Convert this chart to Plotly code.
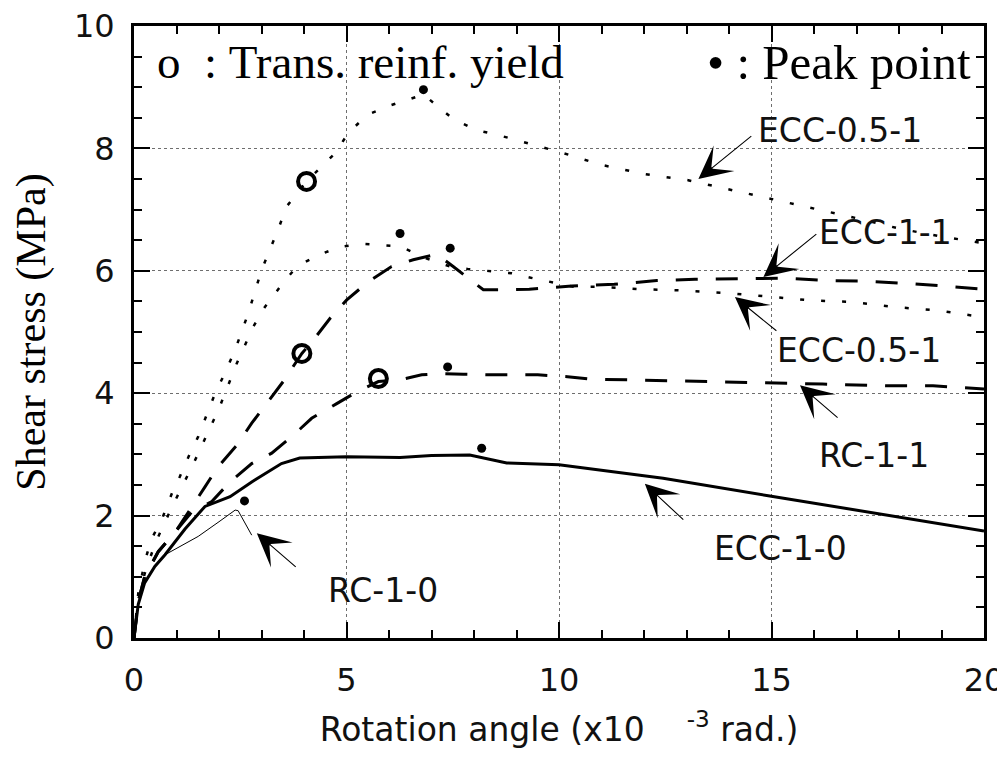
import plotly.graph_objects as go

# ---------------- data ----------------
ecc05a_x = [0, 0.1, 0.26, 0.42, 0.65, 0.89, 1.08, 1.32, 1.51, 1.91, 2.14, 2.38, 2.69, 3.0, 3.4, 3.59,
            4.06, 4.73, 5.04, 5.49, 5.98, 6.49, 6.81, 7.51, 8.05, 8.56, 9.5, 10.02, 11.0, 12.02, 13.04,
            14.0, 15.0, 16.0, 17.0, 18.0, 19.0, 20.0]
ecc05a_y = [0, 0.73, 1.27, 1.63, 1.93, 2.36, 2.64, 3.02, 3.29, 4.0, 4.33, 4.71, 5.31, 6.01, 6.69, 7.05,
            7.46, 7.92, 8.25, 8.55, 8.69, 8.80, 8.88, 8.48, 8.30, 8.22, 8.04, 7.94, 7.73, 7.58, 7.48,
            7.33, 7.17, 7.01, 6.86, 6.69, 6.56, 6.45]

ecc05b_x = [0, 0.1, 0.25, 0.5, 0.9, 1.4, 2.0, 2.42, 2.81, 3.08, 3.47, 3.83, 4.34, 4.85, 5.36, 5.87,
            6.26, 6.89, 7.44, 7.85, 8.36, 8.88, 9.38, 9.87, 10.34, 10.89, 11.87, 12.89, 13.87, 14.89,
            15.87, 16.89, 17.87, 18.93, 20.0]
ecc05b_y = [0, 0.6, 1.05, 1.55, 2.15, 2.85, 3.75, 4.49, 5.09, 5.41, 5.77, 6.07, 6.26, 6.39, 6.44, 6.42,
            6.40, 6.20, 6.07, 6.03, 6.00, 5.96, 5.88, 5.81, 5.74, 5.74, 5.70, 5.68, 5.64, 5.58,
            5.52, 5.49, 5.41, 5.35, 5.24]

ecc11_x = [0, 0.1, 0.25, 0.57, 1.0, 1.32, 1.67, 1.98, 2.42, 2.77, 3.16, 3.51, 3.95, 4.22, 4.61, 5.0,
           5.51, 6.06, 6.57, 7.12, 7.51, 8.02, 8.22, 8.53, 9.3, 10.3, 11.3, 12.3, 13.2, 14.3, 15.3,
           16.3, 17.2, 18.3, 19.3, 20.0]
ecc11_y = [0, 0.6, 1.0, 1.41, 1.76, 2.09, 2.47, 2.80, 3.15, 3.51, 3.86, 4.19, 4.65, 4.87, 5.22, 5.52,
           5.82, 6.07, 6.18, 6.27, 6.07, 5.80, 5.69, 5.69, 5.70, 5.75, 5.78, 5.84, 5.86, 5.87, 5.88,
           5.84, 5.83, 5.79, 5.73, 5.70]

rc11_x = [0, 0.1, 0.25, 0.57, 1.0, 1.36, 1.83, 2.26, 2.77, 3.24, 3.79, 4.18, 4.77, 5.24, 5.75, 6.26,
          6.77, 7.24, 7.75, 8.5, 9.5, 10.2, 10.77, 11.5, 12.5, 13.2, 15.2, 16.2, 17.7, 18.8, 20.0]
rc11_y = [0, 0.6, 1.0, 1.41, 1.76, 2.06, 2.23, 2.55, 2.85, 3.02, 3.34, 3.59, 3.83, 4.02, 4.19, 4.22,
          4.30, 4.32, 4.31, 4.30, 4.30, 4.27, 4.23, 4.22, 4.20, 4.19, 4.16, 4.15, 4.12, 4.12, 4.07]

ecc10_x = [0, 0.1, 0.25, 0.49, 0.73, 1.2, 1.67, 2.26, 2.77, 3.47, 3.9, 5.0, 6.26, 7.0, 7.9, 8.77,
           10.0, 12.45, 14.96, 16.4, 18.0, 20.0]
ecc10_y = [0, 0.55, 0.9, 1.17, 1.36, 1.78, 2.15, 2.31, 2.55, 2.85, 2.94, 2.96, 2.95, 2.98, 2.99, 2.86,
           2.83, 2.61, 2.32, 2.16, 1.98, 1.75]

rc10_x = [0, 0.1, 0.25, 0.49, 0.73, 1.1, 1.51, 2.0, 2.38, 2.45, 2.77]
rc10_y = [0, 0.55, 0.9, 1.17, 1.36, 1.50, 1.66, 1.90, 2.09, 2.08, 1.68]

yield_x = [4.06, 3.95, 5.75]
yield_y = [7.46, 4.65, 4.24]

peak_x = [6.81, 6.26, 7.44, 7.38, 8.18, 2.60]
peak_y = [8.96, 6.61, 6.37, 4.43, 3.10, 2.24]

labels = ["ECC-0.5-1", "ECC-1-1", "ECC-0.5-1", "RC-1-1", "ECC-1-0", "RC-1-0"]
label_x = [16.61, 17.69, 17.06, 17.41, 15.20, 5.86]
label_y = [8.30, 6.62, 4.69, 2.99, 1.47, 0.78]
tail_x = [14.56, 16.09, 15.15, 16.59, 12.96, 3.84]
tail_y = [8.22, 6.62, 5.00, 3.58, 1.91, 1.14]
tip_x = [13.28, 14.81, 14.14, 15.67, 12.02, 2.89]
tip_y = [7.50, 5.90, 5.57, 4.13, 2.52, 1.71]

SANS = "DejaVu Sans"
SERIF = "Liberation Serif"

fig = go.Figure()

def add_line(x, y, width, dash):
    fig.add_trace(go.Scatter(x=x, y=y, mode="lines",
                             line=dict(color="black", width=width, dash=dash),
                             showlegend=False, hoverinfo="skip"))

add_line(ecc05a_x, ecc05a_y, 2.5, "4px,17px")
add_line(ecc05b_x, ecc05b_y, 2.5, "4px,17px")
add_line(ecc11_x, ecc11_y, 3, "22px,18px")
add_line(rc11_x, rc11_y, 3, "22px,18px")
add_line(ecc10_x, ecc10_y, 3, "solid")
add_line(rc10_x, rc10_y, 1, "solid")

fig.add_trace(go.Scatter(x=yield_x, y=yield_y, mode="markers",
                         marker=dict(symbol="circle-open", size=17, color="black",
                                     line=dict(width=4, color="black")),
                         showlegend=False, hoverinfo="skip"))
fig.add_trace(go.Scatter(x=peak_x, y=peak_y, mode="markers",
                         marker=dict(symbol="circle", size=9, color="black"),
                         showlegend=False, hoverinfo="skip"))

for lab, lx, ly, txx, tyy, ax_, ay_ in zip(labels, label_x, label_y, tip_x, tip_y, tail_x, tail_y):
    fig.add_annotation(x=txx, y=tyy, ax=ax_, ay=ay_, axref="x", ayref="y", xref="x", yref="y",
                       text="", showarrow=True, arrowhead=3, arrowsize=5, arrowwidth=1.1,
                       arrowcolor="black", standoff=0, startstandoff=0)
    fig.add_annotation(x=lx, y=ly, xref="x", yref="y", text=lab, showarrow=False,
                       font=dict(family=SANS, size=33, color="#111"),
                       xanchor="center", yanchor="middle")

fig.add_annotation(x=0.49, y=9.41, xref="x", yref="y", showarrow=False,
                   text="o\u00a0\u00a0:\u00a0Trans. reinf. yield",
                   font=dict(family=SERIF, size=47, color="black"),
                   xanchor="left", yanchor="middle")
fig.add_annotation(x=13.43, y=9.41, xref="x", yref="y", showarrow=False,
                   text="\u2022\u00a0:\u00a0Peak point",
                   font=dict(family=SERIF, size=49, color="black"),
                   xanchor="left", yanchor="middle")

axis_common = dict(
    showline=True, linewidth=3, linecolor="black", mirror="ticks",
    ticks="inside", ticklen=16, tickwidth=1.5, tickcolor="black",
    showgrid=True, gridcolor="#6e6e6e", gridwidth=1, griddash="dot",
    zeroline=False, automargin=False, ticklabeloverflow="allow",
    tickfont=dict(family=SANS, size=32, color="#111"),
)

fig.update_xaxes(range=[0, 20], tick0=0, dtick=5,
                 minor=dict(dtick=1, ticks="inside", ticklen=8, tickwidth=1.5,
                            tickcolor="black", showgrid=False),
                 ticklabelstandoff=12,
                 title=dict(text="Rotation angle (x10" + "\u00a0" * 4 + "<sup>-3</sup> rad.)",
                            font=dict(family=SANS, size=33, color="#111"), standoff=20),
                 **axis_common)
fig.update_yaxes(range=[0, 10], tick0=0, dtick=2,
                 minor=dict(dtick=0.5, ticks="inside", ticklen=8, tickwidth=1.5,
                            tickcolor="black", showgrid=False),
                 ticklabelstandoff=10,
                 title=dict(text="Shear stress (MPa)",
                            font=dict(family=SERIF, size=42, color="black"), standoff=25),
                 **axis_common)

fig.update_layout(width=997, height=743,
                  margin=dict(l=126, r=21, t=18, b=113),
                  plot_bgcolor="white", paper_bgcolor="white",
                  showlegend=False)

fig.write_html("out.html")
